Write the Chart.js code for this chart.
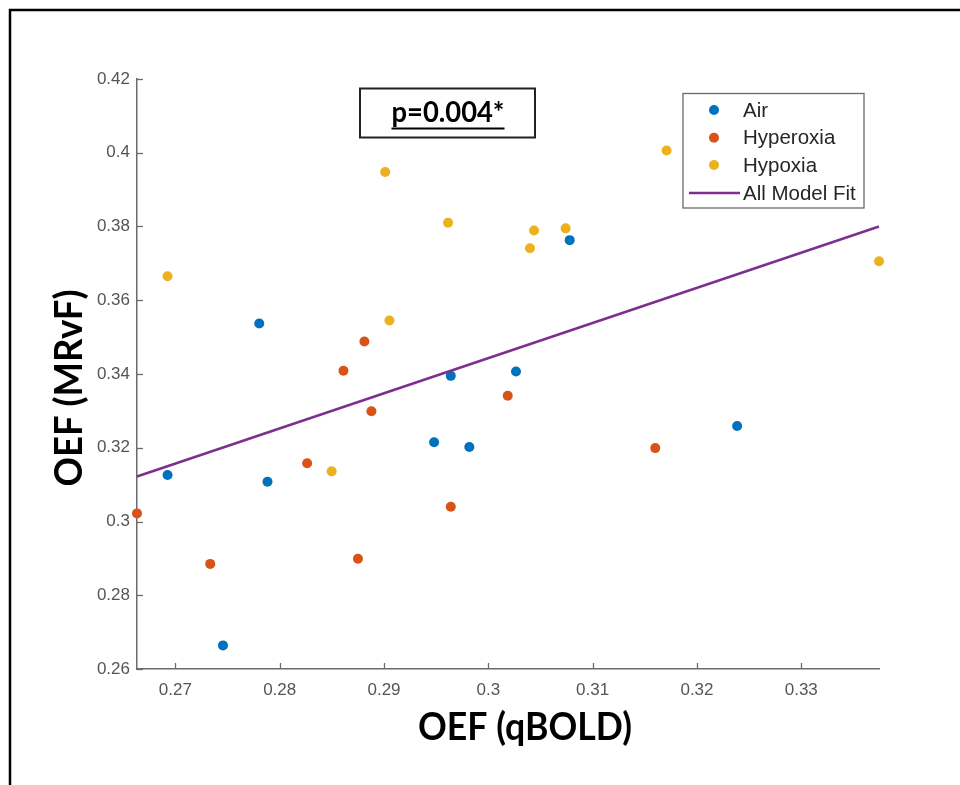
<!DOCTYPE html>
<html>
<head>
<meta charset="utf-8">
<script src="https://cdn.jsdelivr.net/npm/chart.js@4.4.1/dist/chart.umd.min.js"></script>
<style>
  html, body { margin: 0; padding: 0; background: #fff; }
  canvas { display: block; }
</style>
</head>
<body>
<canvas id="chart" width="960" height="785"></canvas>
<script>
// OEF measured with qBOLD (x) against OEF from MRvF (y), one point per scan
const groupNames = ['Air', 'Hyperoxia', 'Hypoxia'];

const airX = [0.26925, 0.27804, 0.27883, 0.27456, 0.29480, 0.29640, 0.29818, 0.30265, 0.30780, 0.32385];
const airY = [0.3126, 0.3537, 0.3108, 0.2664, 0.3215, 0.3395, 0.3202, 0.3407, 0.3763, 0.3259];

const hyperoxiaX = [0.26632, 0.27334, 0.28263, 0.28611, 0.28812, 0.28879, 0.28750, 0.29640, 0.30186, 0.31600];
const hyperoxiaY = [0.3022, 0.2885, 0.3158, 0.3409, 0.3488, 0.3299, 0.2899, 0.3040, 0.3341, 0.3199];

const hypoxiaX = [0.26925, 0.29011, 0.29052, 0.28498, 0.29614, 0.30399, 0.30438, 0.30741, 0.31709, 0.33745];
const hypoxiaY = [0.3665, 0.3948, 0.3545, 0.3136, 0.3810, 0.3741, 0.3789, 0.3795, 0.4006, 0.3706];

// linear model fitted to all points, evaluated at the ends of the x range
const fitName = 'All Model Fit';
const fitX = [0.26632, 0.33745];
const fitY = [0.3122, 0.3800];

const xTicks = [0.27, 0.28, 0.29, 0.30, 0.31, 0.32, 0.33];
const xTickLabels = ['0.27', '0.28', '0.29', '0.3', '0.31', '0.32', '0.33'];
const yTicks = [0.26, 0.28, 0.30, 0.32, 0.34, 0.36, 0.38, 0.40, 0.42];
const yTickLabels = ['0.26', '0.28', '0.3', '0.32', '0.34', '0.36', '0.38', '0.4', '0.42'];

const xTitle = 'OEF (qBOLD)';
const yTitle = 'OEF (MRvF)';
const pLabel = 'p=0.004*';

const groupColors = ['#0072BD', '#D95319', '#EDB120'];
const fitColor = '#7E2F8E';
const axisColor = '#6b6b6b';

const groupX = [airX, hyperoxiaX, hypoxiaX];
const groupY = [airY, hyperoxiaY, hypoxiaY];
const allX = [].concat(...groupX);

const toPoints = (xs, ys) => xs.map((x, i) => ({ x, y: ys[i] }));

const scatterSets = groupNames.map((name, g) => ({
  type: 'scatter',
  label: name,
  data: toPoints(groupX[g], groupY[g]),
  backgroundColor: groupColors[g],
  pointBackgroundColor: groupColors[g],
  pointBorderWidth: 0,
  pointRadius: 5,
  pointHoverRadius: 5,
  clip: false,
  order: 1
}));

const fitSet = {
  type: 'line',
  label: fitName,
  data: toPoints(fitX, fitY),
  borderColor: fitColor,
  borderWidth: 2.5,
  pointRadius: 0,
  fill: false,
  clip: false,
  order: 0
};

// frame, inward ticks, titles, annotation box and legend
const decor = {
  id: 'decor',
  beforeDraw(chart) {
    const ctx = chart.ctx;
    ctx.save();
    ctx.fillStyle = '#ffffff';
    ctx.fillRect(0, 0, chart.width, chart.height);
    ctx.strokeStyle = '#000';
    ctx.lineWidth = 2.5;
    ctx.beginPath();
    ctx.moveTo(10, chart.height);
    ctx.lineTo(10, 10);
    ctx.lineTo(chart.width, 10);
    ctx.stroke();
    ctx.restore();
  },
  afterDraw(chart) {
    const { ctx, chartArea: a } = chart;
    const xs = chart.scales.x, ys = chart.scales.y;
    ctx.save();

    // tick marks pointing into the plot
    ctx.strokeStyle = axisColor;
    ctx.lineWidth = 1.3;
    xs.ticks.forEach(t => {
      const px = Math.round(xs.getPixelForValue(t.value)) + 0.5;
      ctx.beginPath(); ctx.moveTo(px, a.bottom); ctx.lineTo(px, a.bottom - 6); ctx.stroke();
    });
    ys.ticks.forEach(t => {
      const py = Math.round(ys.getPixelForValue(t.value)) + 0.5;
      ctx.beginPath(); ctx.moveTo(a.left, py); ctx.lineTo(a.left + 6, py); ctx.stroke();
    });

    // axis titles
    ctx.fillStyle = '#000';
    ctx.font = 'bold 39px Lato';
    ctx.textAlign = 'center';
    ctx.textBaseline = 'alphabetic';
    ctx.fillText(xTitle, 525, 740, 214);
    ctx.save();
    ctx.translate(82, 388);
    ctx.rotate(-Math.PI / 2);
    ctx.fillText(yTitle, 0, 0, 197);
    ctx.restore();

    // p-value box
    ctx.fillStyle = '#fff';
    ctx.fillRect(360, 88.5, 175, 49);
    ctx.strokeStyle = '#222';
    ctx.lineWidth = 2;
    ctx.strokeRect(360, 88.5, 175, 49);
    ctx.fillStyle = '#000';
    ctx.font = 'bold 29px Lato';
    const pw = Math.min(ctx.measureText(pLabel).width, 113);
    ctx.fillText(pLabel, 448, 121.5, 113);
    ctx.fillRect(448 - pw / 2, 127.5, pw, 2);

    // legend
    const lx = 683, ly = 93.5, lw = 181, lh = 114.5;
    ctx.fillStyle = '#fff';
    ctx.fillRect(lx, ly, lw, lh);
    ctx.strokeStyle = '#6a6a6a';
    ctx.lineWidth = 1.3;
    ctx.strokeRect(lx, ly, lw, lh);
    const rows = [110, 137.7, 165, 193];
    ctx.font = '20.5px "Liberation Sans"';
    ctx.textAlign = 'left';
    ctx.textBaseline = 'middle';
    const ds = chart.data.datasets;
    const legendSets = [ds[1], ds[2], ds[3], ds[0]];
    legendSets.forEach((d, i) => {
      const ry = rows[i];
      if (d.type === 'line') {
        ctx.strokeStyle = d.borderColor;
        ctx.lineWidth = 2.5;
        ctx.beginPath(); ctx.moveTo(689, ry); ctx.lineTo(740, ry); ctx.stroke();
      } else {
        ctx.fillStyle = d.backgroundColor;
        ctx.beginPath(); ctx.arc(714, ry, 5, 0, Math.PI * 2); ctx.fill();
      }
      ctx.fillStyle = '#262626';
      ctx.fillText(d.label, 743, ry + 1);
    });

    ctx.restore();
  }
};

new Chart(document.getElementById('chart'), {
  type: 'scatter',
  data: { datasets: [fitSet, ...scatterSets] },
  options: {
    responsive: false,
    animation: false,
    devicePixelRatio: 1,
    events: [],
    layout: { padding: { left: 0, right: 81, top: 79, bottom: 0 } },
    plugins: { legend: { display: false }, tooltip: { enabled: false } },
    scales: {
      x: {
        type: 'linear',
        min: Math.min(...allX),
        max: Math.max(...allX),
        afterBuildTicks: s => { s.ticks = xTicks.map(v => ({ value: v })); },
        afterFit: s => { s.height = 116; },
        grid: { color: 'rgba(0,0,0,0)', drawTicks: false },
        border: { color: axisColor, width: 1.5 },
        ticks: {
          padding: 11,
          color: '#555',
          font: { family: 'Liberation Sans', size: 17 },
          maxRotation: 0,
          callback: (v, i) => xTickLabels[i]
        }
      },
      y: {
        type: 'linear',
        min: yTicks[0],
        max: yTicks[yTicks.length - 1],
        afterBuildTicks: s => { s.ticks = yTicks.map(v => ({ value: v })); },
        afterFit: s => { s.width = 137; },
        grid: { color: 'rgba(0,0,0,0)', drawTicks: false },
        border: { color: axisColor, width: 1.5 },
        ticks: {
          padding: 7,
          color: '#555',
          font: { family: 'Liberation Sans', size: 17 },
          callback: (v, i) => yTickLabels[i]
        }
      }
    }
  },
  plugins: [decor]
});
</script>
</body>
</html>
